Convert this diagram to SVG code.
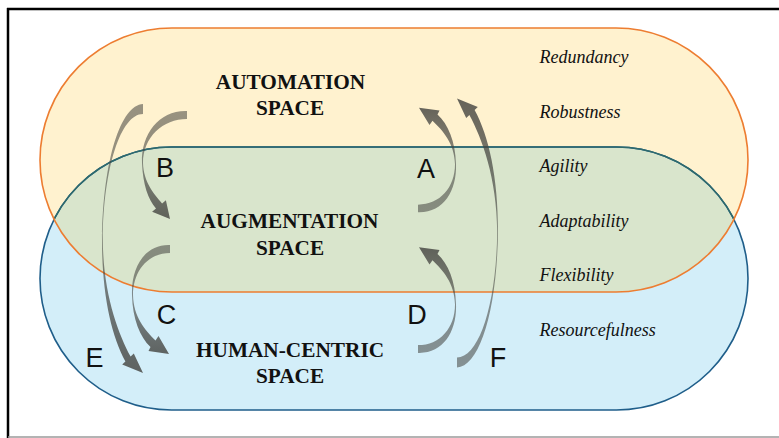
<svg xmlns="http://www.w3.org/2000/svg" width="779" height="438" viewBox="0 0 779 438">
  <style>
    .title { font-family: "Liberation Serif", "Times New Roman", serif; font-weight: bold; font-size: 21.3px; fill: #111; text-anchor: middle; }
    .letter { font-family: "Liberation Sans", Arial, sans-serif; font-size: 27px; fill: #111; text-anchor: middle; }
    .trait { font-family: "Liberation Serif", "Times New Roman", serif; font-style: italic; font-size: 18px; fill: #111; }
    .arrow { fill: url(#fade); }
  </style>
  <defs>
    <!-- two rounded "space" bands -->
    <rect id="upperBand" x="40" y="28" width="708" height="264" rx="132" ry="132"/>
    <rect id="lowerBand" x="40" y="147" width="708" height="263" rx="131.5" ry="131.5"/>
    <clipPath id="upperClip"><use href="#upperBand"/></clipPath>
    <!-- arrows get darker from tail to head -->
    <linearGradient id="fade" x1="0" y1="0" x2="0" y2="1">
      <stop offset="0" stop-color="#444440" stop-opacity="0.55"/>
      <stop offset="0.5" stop-color="#444440" stop-opacity="0.6"/>
      <stop offset="1" stop-color="#444440" stop-opacity="0.82"/>
    </linearGradient>
    <!-- short curved arrow, tail at origin, bulging left -->
    <path id="shortArrow" d="M 0,-4 C -25,-5 -39,18 -38,46 C -37.5,70 -30,88 -19.5,98 L -21.5,102 L -1,105 L -11.5,87 L -14.5,91.5 C -25,81 -36.5,68 -37,46 C -37,22 -22,4 0,4 Z"/>
    <!-- long curved arrow, tail at origin, bulging left -->
    <path id="longArrow" d="M 0,-5 C -22,-4 -40,50 -41,131 C -41,185 -32,226 -17.6,252.4 L -20.8,255.4 L 0,264 L -9.2,244.6 L -12.4,247.6 C -25,224 -39.8,185 -40.2,131 C -39.5,58 -22,5 0,5 Z"/>
  </defs>

  <rect x="0" y="0" width="779" height="438" fill="#ffffff"/>

  <!-- frame -->
  <g id="frame" fill="none">
    <line x1="7" y1="9" x2="779" y2="9" stroke="#000" stroke-width="2.5"/>
    <line x1="8" y1="8" x2="8" y2="438" stroke="#000" stroke-width="2.5"/>
    <line x1="8" y1="437" x2="779" y2="437" stroke="#9a9a9a" stroke-width="1.5"/>
  </g>

  <!-- bands -->
  <g id="bands">
    <use href="#upperBand" fill="#FFF2CF"/>
    <use href="#lowerBand" fill="#D3EEF9"/>
    <use href="#lowerBand" fill="#D9E5CC" clip-path="url(#upperClip)"/>
    <use href="#lowerBand" fill="none" stroke="#1F5E8A" stroke-width="1.6"/>
    <use href="#lowerBand" fill="none" stroke="#2E6A6C" stroke-width="1.6" clip-path="url(#upperClip)"/>
    <use href="#upperBand" fill="none" stroke="#ED7D31" stroke-width="1.6"/>
  </g>

  <!-- spaces -->
  <g id="automation">
    <text class="title" x="290.5" y="89">AUTOMATION</text>
    <text class="title" x="290" y="115">SPACE</text>
  </g>
  <g id="augmentation">
    <text class="title" x="289.5" y="228">AUGMENTATION</text>
    <text class="title" x="290" y="255">SPACE</text>
  </g>
  <g id="human-centric">
    <text class="title" x="290" y="357">HUMAN-CENTRIC</text>
    <text class="title" x="290" y="383">SPACE</text>
  </g>

  <!-- transitions between spaces -->
  <g id="connectors">
    <path id="arrowB" class="arrow" transform="translate(187,115)" d="M 0,-4 C -27,-5 -46,18 -45,48 C -44,70 -39,84 -31,93.6 L -34.9,96.8 L -17,104 L -21.1,85.2 L -24.9,88.4 C -33,79 -43.5,67 -44,48 C -44,22 -24,4 0,4 Z"/>
    <use id="arrowC" class="arrow" href="#shortArrow" transform="translate(170,249)"/>
    <use id="arrowA" class="arrow" href="#shortArrow" transform="translate(418,208.5) rotate(180) scale(1,0.96)"/>
    <use id="arrowD" class="arrow" href="#shortArrow" transform="translate(418,349) rotate(180) scale(1,0.97)"/>
    <use id="arrowE" class="arrow" href="#longArrow" transform="translate(143,109)"/>
    <use id="arrowF" class="arrow" href="#longArrow" transform="translate(457,362.5) rotate(180)"/>
  </g>

  <!-- transition labels -->
  <g id="labels">
    <text class="letter" x="165" y="177">B</text>
    <text class="letter" x="426" y="178">A</text>
    <text class="letter" x="166.5" y="324">C</text>
    <text class="letter" x="417" y="324">D</text>
    <text class="letter" x="94.5" y="367">E</text>
    <text class="letter" x="498" y="367">F</text>
  </g>

  <!-- resilience traits -->
  <g id="traits">
    <text class="trait" x="539.5" y="63">Redundancy</text>
    <text class="trait" x="539.5" y="118">Robustness</text>
    <text class="trait" x="539.5" y="172">Agility</text>
    <text class="trait" x="539.5" y="227">Adaptability</text>
    <text class="trait" x="539.5" y="281">Flexibility</text>
    <text class="trait" x="539.5" y="336">Resourcefulness</text>
  </g>
</svg>
